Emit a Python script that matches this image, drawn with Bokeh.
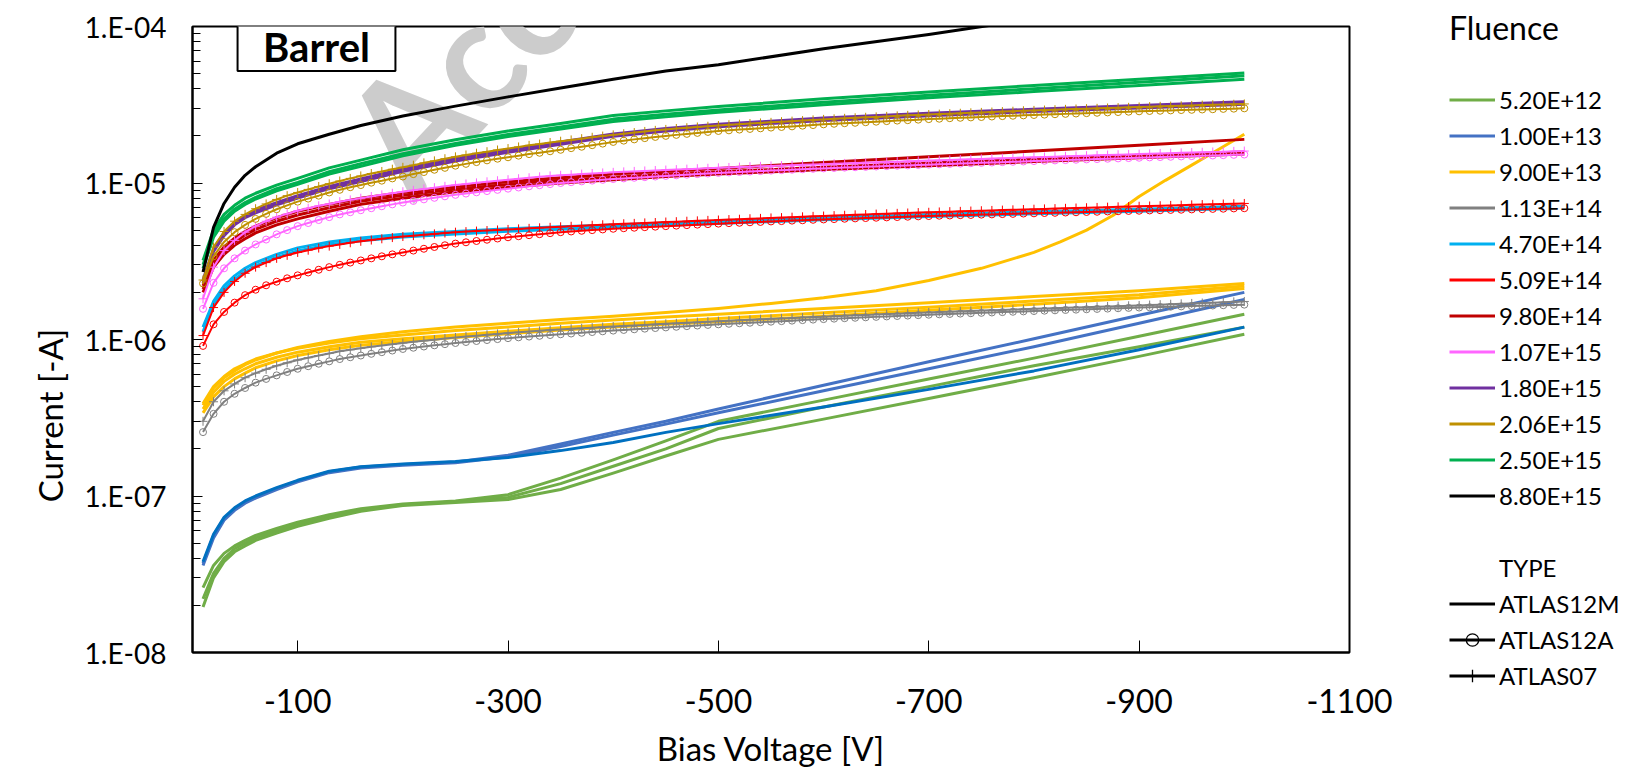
import math
from bokeh.plotting import figure
from bokeh.models import (Range1d, FixedTicker, CustomJSTickFormatter, Label,
                          Legend, LegendItem, ColumnDataSource)
from bokeh.embed import file_html
from bokeh.resources import INLINE

FONT = "Lato"
NBSP = "\u00a0"
NAN = float("nan")

# ---------------- data (current in microamps, bias voltage in V) ----------------
FLUENCE_LABELS = ["5.20E+12", "1.00E+13", "9.00E+13", "1.13E+14", "4.70E+14", "5.09E+14",
                  "9.80E+14", "1.07E+15", "1.80E+15", "2.06E+15", "2.50E+15", "8.80E+15"]
FLUENCE_COLORS = ["#70AD47", "#4472C4", "#FFC000", "#808080", "#00B0F0", "#FF0000",
                  "#C00000", "#FF66FF", "#7030A0", "#BF9000", "#00B050", "#000000"]
TYPE_LABELS = ["ATLAS12M", "ATLAS12A", "ATLAS07"]

X_TICKS = [-100, -300, -500, -700, -900, -1100]
Y_TICKS = [1e-8, 1e-7, 1e-6, 1e-5, 1e-4]

VOLT_FINE = [-10, -20, -30, -40, -50, -60, -70, -80, -90, -100,
             -110, -120, -130, -140, -150, -160, -170, -180, -190, -200,
             -210, -220, -230, -240, -250, -260, -270, -280, -290, -300,
             -310, -320, -330, -340, -350, -360, -370, -380, -390, -400,
             -410, -420, -430, -440, -450, -460, -470, -480, -490, -500,
             -510, -520, -530, -540, -550, -560, -570, -580, -590, -600,
             -610, -620, -630, -640, -650, -660, -670, -680, -690, -700,
             -710, -720, -730, -740, -750, -760, -770, -780, -790, -800,
             -810, -820, -830, -840, -850, -860, -870, -880, -890, -900,
             -910, -920, -930, -940, -950, -960, -970, -980, -990, -1000]
VOLT_COARSE = [-10, -20, -30, -40, -50, -60, -80, -100, -130, -160, -200, -250,
               -300, -350, -400, -450, -500, -600, -700, -800, -900, -1000]
VOLT_BLACK = [-10, -20, -30, -40, -50, -60, -80, -100, -130, -160, -200, -250,
              -300, -350, -400, -450, -500, -600, -700, -800]
VOLT_YB = [-10, -20, -30, -40, -50, -60, -80, -100, -130, -160, -200, -250, -300,
           -350, -400, -450, -500, -550, -600, -650, -700, -750, -800, -825, -850,
           -875, -900, -925, -950, -975, -1000]

# 5.20E+12 (ATLAS12M)
GL1 = [.026, .036, .043, .048, .052, .056, .062, .068, .076, .083, .089, .093, .102, .13, .17, .225, .30, .41, .56, .76, 1.05, 1.45]
GL2 = [.022, .032, .040, .046, .050, .054, .060, .066, .074, .081, .088, .092, .098, .12, .155, .20, .27, .37, .50, .68, .90, 1.2]
GL3 = [.0195, .030, .038, .044, .048, .052, .058, .064, .072, .080, .087, .091, .095, .11, .14, .18, .23, .31, .42, .57, .78, 1.08]
# 1.00E+13
B1 = [.037, .056, .072, .083, .092, .099, .112, .125, .143, .153, .159, .165, .182, .215, .255, .30, .36, .51, .72, 1.01, 1.43, 2.0]
B2 = [.036, .054, .070, .081, .090, .097, .110, .123, .141, .151, .157, .163, .178, .207, .245, .288, .34, .47, .65, .90, 1.27, 1.8]
B3 = [.038, .057, .073, .084, .093, .100, .113, .126, .144, .154, .160, .166, .176, .195, .22, .255, .29, .37, .48, .63, .86, 1.2]
# 9.00E+13
Y1 = [.39, .50, .58, .65, .70, .75, .82, .88, .95, 1.01, 1.07, 1.14, 1.20, 1.27, 1.33, 1.39, 1.45, 1.58, 1.72, 1.88, 2.05, 2.28]
Y2 = [.36, .46, .54, .60, .65, .70, .77, .83, .90, .96, 1.01, 1.07, 1.13, 1.19, 1.25, 1.30, 1.36, 1.48, 1.61, 1.76, 1.93, 2.20]
Y3 = [.34, .43, .50, .56, .61, .66, .73, .79, .86, .92, .97, 1.03, 1.09, 1.15, 1.20, 1.25, 1.30, 1.41, 1.54, 1.68, 1.85, 2.12]
YB = [.38, .49, .57, .63, .69, .74, .82, .89, .97, 1.04, 1.12, 1.20, 1.27, 1.34, 1.41, 1.49, 1.58, 1.70,
      1.85, 2.05, 2.38, 2.85, 3.6, 4.2, 5.0, 6.2, 8.2, 10.4, 13.0, 16.3, 20.5]
# 1.13E+14 (ATLAS07 / ATLAS12A)
GRAY_P = [0.300, 0.400, 0.470, 0.520, 0.570, 0.610, 0.645, 0.680, 0.710, 0.740,
          0.765, 0.790, 0.815, 0.840, 0.860, 0.880, 0.898, 0.915, 0.932, 0.950,
          0.966, 0.982, 0.998, 1.014, 1.030, 1.044, 1.058, 1.072, 1.086, 1.100,
          1.112, 1.124, 1.136, 1.148, 1.160, 1.170, 1.180, 1.190, 1.200, 1.210,
          1.220, 1.230, 1.240, 1.250, 1.260, 1.270, 1.280, 1.290, 1.300, 1.310,
          1.319, 1.328, 1.337, 1.346, 1.355, 1.364, 1.373, 1.382, 1.391, 1.400,
          1.409, 1.418, 1.427, 1.436, 1.445, 1.454, 1.463, 1.472, 1.481, 1.490,
          1.498, 1.506, 1.514, 1.522, 1.530, 1.538, 1.546, 1.554, 1.562, 1.570,
          1.578, 1.586, 1.594, 1.602, 1.610, 1.618, 1.626, 1.634, 1.642, 1.650,
          1.660, 1.670, 1.680, 1.690, 1.700, 1.710, 1.720, 1.730, 1.740, 1.750]
GRAY_O = [0.256, 0.335, 0.400, 0.450, 0.490, 0.530, 0.560, 0.590, 0.620, 0.650,
          0.675, 0.700, 0.725, 0.750, 0.770, 0.790, 0.810, 0.830, 0.850, 0.870,
          0.886, 0.902, 0.918, 0.934, 0.950, 0.964, 0.978, 0.992, 1.006, 1.020,
          1.032, 1.044, 1.056, 1.068, 1.080, 1.092, 1.104, 1.116, 1.128, 1.140,
          1.151, 1.162, 1.173, 1.184, 1.195, 1.206, 1.217, 1.228, 1.239, 1.250,
          1.260, 1.270, 1.280, 1.290, 1.300, 1.310, 1.320, 1.330, 1.340, 1.350,
          1.359, 1.368, 1.377, 1.386, 1.395, 1.404, 1.413, 1.422, 1.431, 1.440,
          1.448, 1.456, 1.464, 1.472, 1.480, 1.488, 1.496, 1.504, 1.512, 1.520,
          1.528, 1.536, 1.544, 1.552, 1.560, 1.568, 1.576, 1.584, 1.592, 1.600,
          1.607, 1.614, 1.621, 1.628, 1.635, 1.642, 1.649, 1.656, 1.663, 1.670]
# 4.70E+14
C1 = [1.2, 1.75, 2.2, 2.55, 2.85, 3.1, 3.5, 3.85, 4.2, 4.45, 4.7, 4.9, 5.1, 5.25, 5.4, 5.55, 5.7, 6.0, 6.3, 6.55, 6.8, 7.1]
C2 = [1.12, 1.65, 2.08, 2.42, 2.7, 2.95, 3.35, 3.68, 4.03, 4.28, 4.52, 4.72, 4.92, 5.07, 5.22, 5.37, 5.52, 5.82, 6.1, 6.35, 6.6, 6.9]
# 5.09E+14
RED_P = [1.06, 1.60, 2.00, 2.35, 2.65, 2.90, 3.10, 3.30, 3.45, 3.60,
         3.72, 3.84, 3.95, 4.05, 4.15, 4.24, 4.32, 4.40, 4.48, 4.55,
         4.61, 4.67, 4.73, 4.79, 4.85, 4.89, 4.93, 4.97, 5.01, 5.05,
         5.09, 5.13, 5.17, 5.21, 5.25, 5.29, 5.33, 5.37, 5.41, 5.45,
         5.49, 5.52, 5.56, 5.59, 5.63, 5.66, 5.70, 5.73, 5.77, 5.80,
         5.84, 5.87, 5.91, 5.94, 5.98, 6.01, 6.05, 6.08, 6.12, 6.15,
         6.19, 6.22, 6.26, 6.29, 6.33, 6.36, 6.40, 6.43, 6.47, 6.50,
         6.53, 6.56, 6.59, 6.62, 6.65, 6.68, 6.71, 6.74, 6.77, 6.80,
         6.83, 6.86, 6.89, 6.92, 6.95, 6.98, 7.01, 7.04, 7.07, 7.10,
         7.13, 7.16, 7.19, 7.22, 7.25, 7.28, 7.31, 7.34, 7.37, 7.40]
RED_O = [0.91, 1.25, 1.50, 1.72, 1.92, 2.08, 2.22, 2.34, 2.46, 2.57,
         2.68, 2.79, 2.90, 3.00, 3.10, 3.20, 3.30, 3.40, 3.50, 3.60,
         3.70, 3.80, 3.90, 4.00, 4.10, 4.18, 4.26, 4.34, 4.42, 4.50,
         4.57, 4.64, 4.71, 4.78, 4.85, 4.90, 4.95, 5.00, 5.05, 5.10,
         5.14, 5.18, 5.22, 5.26, 5.30, 5.34, 5.38, 5.42, 5.46, 5.50,
         5.54, 5.57, 5.61, 5.64, 5.68, 5.71, 5.75, 5.78, 5.82, 5.85,
         5.88, 5.91, 5.94, 5.97, 6.00, 6.03, 6.06, 6.09, 6.12, 6.15,
         6.18, 6.20, 6.23, 6.25, 6.28, 6.30, 6.33, 6.35, 6.38, 6.40,
         6.43, 6.45, 6.48, 6.50, 6.53, 6.55, 6.58, 6.60, 6.63, 6.65,
         6.68, 6.70, 6.73, 6.75, 6.78, 6.80, 6.83, 6.85, 6.88, 6.90]
# 9.80E+14
DR1 = [2.2, 3.2, 3.9, 4.45, 4.9, 5.3, 6.0, 6.6, 7.3, 8.0, 8.7, 9.5, 10.2, 10.8, 11.4, 11.9, 12.4, 13.5, 14.7, 16.0, 17.4, 19.0]
DR2 = [2.0, 2.9, 3.5, 4.0, 4.4, 4.8, 5.4, 5.9, 6.6, 7.3, 8.0, 8.8, 9.4, 10.0, 10.5, 11.0, 11.4, 12.2, 12.9, 13.7, 14.5, 15.3]
DR3 = [2.1, 3.05, 3.7, 4.2, 4.65, 5.05, 5.7, 6.25, 6.95, 7.65, 8.35, 9.15, 9.8, 10.4, 10.9, 11.4, 11.8, 12.6, 13.4, 14.2, 15.0, 15.8]
# 1.07E+15
PINK_P = [1.82, 2.90, 3.70, 4.30, 4.85, 5.30, 5.70, 6.05, 6.35, 6.65,
          6.90, 7.15, 7.35, 7.60, 7.80, 8.00, 8.20, 8.40, 8.60, 8.80,
          8.98, 9.16, 9.34, 9.52, 9.70, 9.86, 10.02, 10.18, 10.34, 10.50,
          10.65, 10.80, 10.95, 11.10, 11.20, 11.30, 11.40, 11.50, 11.60, 11.70,
          11.78, 11.86, 11.94, 12.02, 12.10, 12.18, 12.26, 12.34, 12.42, 12.50,
          12.57, 12.64, 12.71, 12.78, 12.85, 12.92, 12.99, 13.06, 13.13, 13.20,
          13.27, 13.34, 13.41, 13.48, 13.55, 13.62, 13.69, 13.76, 13.83, 13.90,
          13.97, 14.04, 14.11, 14.18, 14.25, 14.32, 14.39, 14.46, 14.53, 14.60,
          14.67, 14.74, 14.81, 14.88, 14.95, 15.02, 15.09, 15.16, 15.23, 15.30,
          15.37, 15.44, 15.51, 15.58, 15.65, 15.72, 15.79, 15.86, 15.93, 16.00]
PINK_O = [1.57, 2.30, 2.85, 3.30, 3.70, 4.05, 4.35, 4.70, 5.00, 5.30,
          5.55, 5.80, 6.05, 6.30, 6.50, 6.70, 6.90, 7.10, 7.30, 7.50,
          7.68, 7.86, 8.04, 8.22, 8.40, 8.56, 8.72, 8.88, 9.04, 9.20,
          9.36, 9.52, 9.68, 9.84, 10.00, 10.12, 10.24, 10.36, 10.48, 10.60,
          10.70, 10.80, 10.90, 11.00, 11.10, 11.20, 11.30, 11.40, 11.50, 11.60,
          11.68, 11.76, 11.84, 11.92, 12.00, 12.08, 12.16, 12.24, 12.32, 12.40,
          12.47, 12.54, 12.61, 12.68, 12.75, 12.82, 12.89, 12.96, 13.03, 13.10,
          13.17, 13.24, 13.31, 13.38, 13.45, 13.52, 13.59, 13.66, 13.73, 13.80,
          13.87, 13.94, 14.01, 14.08, 14.15, 14.22, 14.29, 14.36, 14.43, 14.50,
          14.57, 14.64, 14.71, 14.78, 14.85, 14.92, 14.99, 15.06, 15.13, 15.20]
# 1.80E+15
P1 = [2.4, 3.8, 4.8, 5.6, 6.2, 6.7, 7.5, 8.3, 9.5, 10.6, 12.3, 14.3, 16.3, 18.3, 20.6, 22.3, 23.7, 26.0, 27.9, 29.6, 31.3, 33.0]
P2 = [2.3, 3.65, 4.6, 5.4, 6.0, 6.45, 7.25, 8.0, 9.2, 10.2, 11.9, 13.8, 15.7, 17.7, 19.9, 21.5, 22.9, 25.1, 26.9, 28.6, 30.2, 31.8]
# 2.06E+15
GOLD_P = [2.40, 3.90, 4.90, 5.70, 6.30, 6.85, 7.35, 7.85, 8.30, 8.70,
          9.10, 9.50, 9.90, 10.30, 10.70, 11.10, 11.50, 11.85, 12.25, 12.60,
          13.00, 13.45, 13.85, 14.30, 14.70, 15.10, 15.50, 15.85, 16.25, 16.60,
          17.00, 17.40, 17.75, 18.15, 18.50, 18.85, 19.20, 19.60, 19.95, 20.30,
          20.65, 21.00, 21.35, 21.70, 22.00, 22.30, 22.55, 22.80, 23.05, 23.30,
          23.55, 23.75, 24.00, 24.20, 24.40, 24.65, 24.85, 25.05, 25.30, 25.50,
          25.70, 25.90, 26.10, 26.30, 26.45, 26.65, 26.85, 27.05, 27.20, 27.40,
          27.55, 27.75, 27.90, 28.10, 28.25, 28.40, 28.60, 28.75, 28.95, 29.10,
          29.25, 29.40, 29.55, 29.70, 29.85, 30.00, 30.15, 30.30, 30.45, 30.60,
          30.75, 30.90, 31.00, 31.15, 31.30, 31.45, 31.60, 31.70, 31.85, 32.00]
GOLD_O = [2.28, 3.40, 4.20, 4.85, 5.40, 5.90, 6.35, 6.80, 7.20, 7.60,
          7.95, 8.30, 8.70, 9.05, 9.40, 9.70, 10.05, 10.35, 10.70, 11.00,
          11.40, 11.75, 12.15, 12.50, 12.90, 13.25, 13.60, 13.95, 14.30, 14.60,
          14.95, 15.30, 15.60, 15.95, 16.30, 16.70, 17.05, 17.45, 17.85, 18.30,
          18.65, 19.00, 19.35, 19.70, 20.00, 20.30, 20.60, 20.90, 21.20, 21.50,
          21.70, 21.95, 22.15, 22.35, 22.60, 22.80, 23.00, 23.25, 23.45, 23.70,
          23.90, 24.10, 24.25, 24.45, 24.65, 24.85, 25.05, 25.20, 25.40, 25.60,
          25.75, 25.95, 26.10, 26.25, 26.40, 26.60, 26.75, 26.90, 27.05, 27.20,
          27.35, 27.50, 27.65, 27.80, 27.95, 28.10, 28.25, 28.40, 28.55, 28.70,
          28.85, 28.95, 29.10, 29.25, 29.35, 29.50, 29.60, 29.75, 29.85, 30.00]
# 2.50E+15
G1 = [3.2, 5.0, 6.3, 7.2, 8.0, 8.6, 9.7, 10.7, 12.5, 14.0, 16.3, 18.9, 21.5, 24.0, 27.0, 28.9, 30.8, 34.5, 38.2, 42.0, 46.0, 50.5]
G2 = [3.0, 4.7, 5.9, 6.8, 7.5, 8.1, 9.2, 10.1, 11.8, 13.3, 15.4, 17.9, 20.4, 22.8, 25.6, 27.5, 29.3, 32.8, 36.4, 40.0, 44.0, 48.5]
G3 = [2.85, 4.5, 5.7, 6.6, 7.3, 7.9, 8.9, 9.8, 11.4, 12.8, 14.9, 17.4, 19.8, 22.1, 24.7, 26.5, 28.3, 31.6, 35.0, 38.4, 42.0, 46.0]
# 8.80E+15
BLK = [2.7, 5.2, 7.4, 9.4, 11.2, 12.7, 15.5, 17.8, 20.5, 23.3, 26.8, 31.0, 35.5, 40.5, 46.0, 52.0, 57.0, 72.0, 89.0, 112.0]

# (fluence index, sensor type, voltages, currents, colour override)
CURVES = [
    (0, "M", VOLT_COARSE, GL1, None), (0, "M", VOLT_COARSE, GL2, None), (0, "M", VOLT_COARSE, GL3, None),
    (1, "M", VOLT_COARSE, B1, None), (1, "M", VOLT_COARSE, B2, None), (1, "M", VOLT_COARSE, B3, "#0070C0"),
    (2, "M", VOLT_COARSE, Y1, None), (2, "M", VOLT_COARSE, Y2, None), (2, "M", VOLT_COARSE, Y3, None),
    (2, "M", VOLT_YB, YB, None),
    (3, "07", VOLT_FINE, GRAY_P, None), (3, "A", VOLT_FINE, GRAY_O, None),
    (4, "M", VOLT_COARSE, C1, None), (4, "M", VOLT_COARSE, C2, None),
    (5, "07", VOLT_FINE, RED_P, None), (5, "A", VOLT_FINE, RED_O, None),
    (6, "M", VOLT_COARSE, DR1, None), (6, "M", VOLT_COARSE, DR2, None), (6, "M", VOLT_COARSE, DR3, None),
    (7, "07", VOLT_FINE, PINK_P, None), (7, "A", VOLT_FINE, PINK_O, None),
    (8, "M", VOLT_COARSE, P1, None), (8, "M", VOLT_COARSE, P2, None),
    (9, "07", VOLT_FINE, GOLD_P, None), (9, "A", VOLT_FINE, GOLD_O, None),
    (10, "M", VOLT_COARSE, G1, None), (10, "M", VOLT_COARSE, G2, None), (10, "M", VOLT_COARSE, G3, None),
    (11, "M", VOLT_BLACK, BLK, None),
]

# ---------------- figure ----------------
p = figure(frame_width=1157, frame_height=626,
           min_border_left=192, min_border_right=270, min_border_top=26, min_border_bottom=115,
           x_range=Range1d(0, -1100), y_range=Range1d(1e-8, 1e-4), y_axis_type="log",
           output_backend="svg", toolbar_location=None, title=None)
p.background_fill_color = "white"
p.border_fill_color = "white"
p.xgrid.visible = False
p.ygrid.visible = False
p.outline_line_color = "black"
p.outline_line_width = 2

p.xaxis.ticker = FixedTicker(ticks=X_TICKS)
p.xaxis.formatter = CustomJSTickFormatter(code="return tick.toFixed(0);")
p.xaxis.major_tick_in = 12
p.xaxis.major_tick_out = 0
p.xaxis.minor_tick_in = 0
p.xaxis.minor_tick_out = 0
p.xaxis.axis_line_width = 2
p.xaxis.axis_line_color = "black"
p.xaxis.major_tick_line_color = "black"
p.xaxis.major_label_text_font = FONT
p.xaxis.major_label_text_font_size = "32px"
p.xaxis.major_label_text_color = "black"
p.xaxis.major_label_standoff = 36
p.xaxis.axis_label = "Bias Voltage [V]"
p.xaxis.axis_label_text_font = FONT
p.xaxis.axis_label_text_font_size = "33px"
p.xaxis.axis_label_text_font_style = "normal"
p.xaxis.axis_label_text_color = "black"
p.xaxis.axis_label_standoff = 12

y_minor = [k * t for t in Y_TICKS[:-1] for k in range(2, 10)]
p.yaxis.ticker = FixedTicker(ticks=Y_TICKS, minor_ticks=y_minor)
p.yaxis.formatter = CustomJSTickFormatter(code="""
const e = Math.round(Math.log10(tick));
const a = Math.abs(e);
return "1.E" + (e < 0 ? "-" : "+") + (a < 10 ? "0" : "") + a;
""")
p.yaxis.major_tick_in = 10
p.yaxis.major_tick_out = 0
p.yaxis.minor_tick_in = 8
p.yaxis.minor_tick_out = 0
p.yaxis.axis_line_width = 2
p.yaxis.axis_line_color = "black"
p.yaxis.major_tick_line_color = "black"
p.yaxis.minor_tick_line_color = "black"
p.yaxis.major_label_text_font = FONT
p.yaxis.major_label_text_font_size = "28px"
p.yaxis.major_label_text_color = "black"
p.yaxis.major_label_standoff = 26
# trailing no-break spaces push the title below the axis centre, as in the original
p.yaxis.axis_label = "Current [-A]" + NBSP * 18
p.yaxis.axis_label_text_font = FONT
p.yaxis.axis_label_text_font_size = "33px"
p.yaxis.axis_label_text_font_style = "normal"
p.yaxis.axis_label_text_color = "black"
p.yaxis.axis_label_standoff = 12

# watermark
p.add_layout(Label(x=178, y=490, x_units="screen", y_units="screen", text="Accepted",
                   angle=0.82, text_font=FONT, text_font_style="bold", text_font_size="155px",
                   text_color="#cccccc", text_align="left", text_baseline="alphabetic",
                   level="underlay"))

# curves
for fi, kind, volts, vals, col in CURVES:
    color = col or FLUENCE_COLORS[fi]
    src = ColumnDataSource(dict(v=volts, i=[c * 1e-6 for c in vals]))
    lw = 3 if kind == "M" else 2
    p.line("v", "i", source=src, line_color=color, line_width=lw, line_join="round")
    if kind == "A":
        p.scatter("v", "i", source=src, marker="circle", size=7, fill_color=None,
                  line_color=color, line_width=1)
    elif kind == "07":
        p.scatter("v", "i", source=src, marker="cross", size=9, line_color=color, line_width=1)

# legend-only renderers (a single NaN point: nothing is drawn in the plot)
def swatch_line(color, alpha=1.0):
    return p.line(x=[NAN], y=[NAN], line_color=color, line_width=3, line_alpha=alpha)

blank = swatch_line("white", 0)
t_a_s = p.scatter(x=[NAN], y=[NAN], marker="circle", size=11, fill_color=None,
                  line_color="black", line_width=1.3)
t_7_s = p.scatter(x=[NAN], y=[NAN], marker="cross", size=13, line_color="black", line_width=1.3)

items = [LegendItem(label=lab, renderers=[swatch_line(c)])
         for lab, c in zip(FLUENCE_LABELS, FLUENCE_COLORS)]
items += [LegendItem(label=NBSP, renderers=[blank]),
          LegendItem(label="TYPE", renderers=[blank]),
          LegendItem(label=TYPE_LABELS[0], renderers=[swatch_line("black")]),
          LegendItem(label=TYPE_LABELS[1], renderers=[swatch_line("black"), t_a_s]),
          LegendItem(label=TYPE_LABELS[2], renderers=[swatch_line("black"), t_7_s])]
legend = Legend(items=items, location=(100, -39), orientation="vertical",
                title="Fluence", title_text_font=FONT, title_text_font_size="32px",
                title_text_font_style="normal", title_text_color="black", title_standoff=37,
                border_line_color=None, background_fill_alpha=0, padding=0, margin=0,
                spacing=5, label_standoff=4, glyph_width=46, glyph_height=31,
                label_height=31, label_text_font=FONT, label_text_font_size="24px",
                label_text_color="black")
p.add_layout(legend, "right")

# "Barrel" box (a bordered label of blank width, not clipped by the frame), then its text
p.add_layout(Label(x=124, y=624, x_units="screen", y_units="screen", text=NBSP * 14,
                   text_font=FONT, text_font_style="bold", text_font_size="37px",
                   text_align="center", text_baseline="middle", text_color="white",
                   background_fill_color="white", border_line_color="black",
                   border_line_width=2, padding=(16, 20), level="overlay"))
p.add_layout(Label(x=124, y=606, x_units="screen", y_units="screen", text="Barrel",
                   text_font=FONT, text_font_style="bold", text_font_size="40px",
                   text_align="center", text_baseline="middle", text_color="black",
                   level="overlay"))

open("out.html", "w").write(file_html(p, INLINE))
